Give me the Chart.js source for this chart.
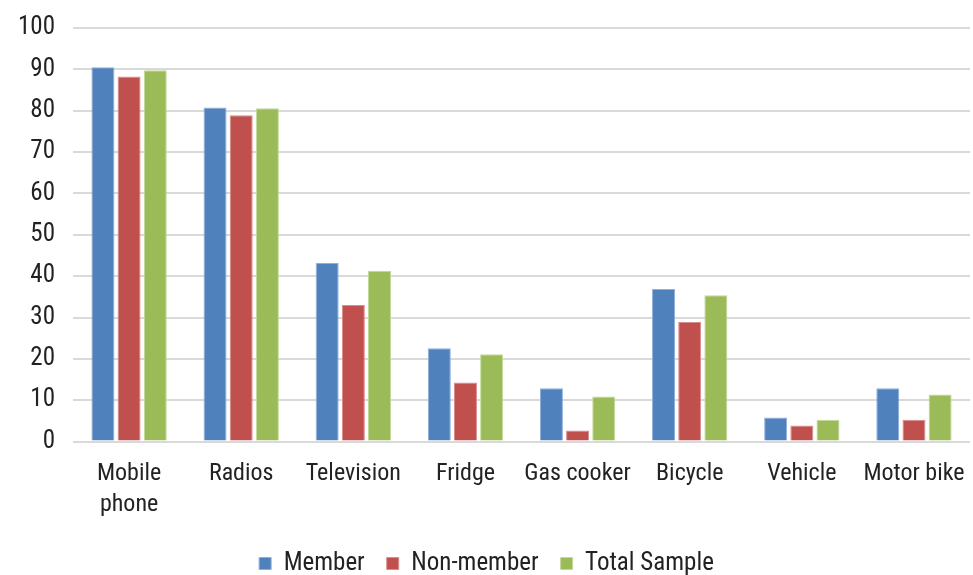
<!DOCTYPE html>
<html>
<head>
<meta charset="utf-8">
<script src="https://cdn.jsdelivr.net/npm/chart.js@4/dist/chart.umd.min.js"></script>
<style>
  html, body { margin: 0; padding: 0; background: #fff; }
  #wrap { width: 973px; height: 575px; }
</style>
</head>
<body>
<div id="wrap"><canvas id="chartMain"></canvas></div>
<script>
// data
var categories = [["Mobile", "phone"], "Radios", "Television", "Fridge", "Gas cooker", "Bicycle", "Vehicle", "Motor bike"];
var member = [90.5, 80.8, 43.2, 22.6, 12.9, 36.9, 5.8, 12.9];
var nonMember = [88.3, 78.9, 33.0, 14.3, 2.7, 28.9, 3.9, 5.3];
var totalSample = [89.8, 80.6, 41.3, 21.1, 10.9, 35.4, 5.3, 11.4];

var fontName = "'Liberation Sans Narrow', 'Roboto Condensed', 'Liberation Sans', sans-serif";
Chart.defaults.font.family = fontName;
Chart.defaults.color = '#222';

function ds(label, values, fill, edge) {
  return {
    label: label,
    data: values,
    backgroundColor: fill,
    borderColor: edge,
    borderWidth: 1,
    barPercentage: 0.88,
    categoryPercentage: 0.7
  };
}

var ctx = document.getElementById('chartMain');
var chartMain = new Chart(ctx, {
  type: 'bar',
  data: {
    labels: categories,
    datasets: [
      ds('Member', member, '#4f81bd', '#8eaedb'),
      ds('Non-member', nonMember, '#c0504d', '#d98c8a'),
      ds('Total Sample', totalSample, '#9bbb59', '#c3d99a')
    ]
  },
  options: {
    responsive: true,
    maintainAspectRatio: false,
    animation: false,
    layout: { padding: { top: 2, right: 0, left: 0, bottom: -11 } },
    plugins: {
      legend: {
        position: 'bottom',
        labels: {
          boxWidth: 12,
          boxHeight: 12,
          padding: 22,
          font: { size: 25 }
        }
      },
      tooltip: { enabled: false }
    },
    scales: {
      x: {
        grid: { display: false },
        border: { display: false },
        ticks: { font: { size: 24, lineHeight: 1.3 }, padding: 8.5, maxRotation: 0, autoSkip: false }
      },
      y: {
        min: 0,
        max: 100,
        ticks: { stepSize: 10, font: { size: 25, lineHeight: 0.8 }, padding: 18 },
        grid: { color: '#d9d9d9', lineWidth: 2, drawTicks: false },
        border: { display: false }
      }
    }
  }
});
</script>
</body>
</html>
